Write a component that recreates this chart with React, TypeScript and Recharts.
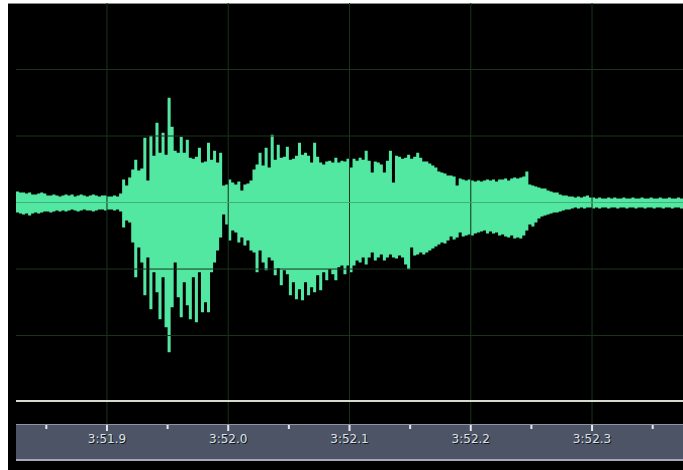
import React from "react";
import { ComposedChart, Area, XAxis, YAxis, ReferenceLine } from "recharts";

// Waveform peak data, 2.5 ms bins starting 75 ms before 3:51.9
const START_MS = -75;
const STEP_MS = 2.5;

const peakHigh: number[] = [
  11, 10, 10, 9, 10, 8, 8, 9, 10, 9, 7, 7, 8, 7, 6, 7, 8, 7, 8, 6,
  7, 8, 7, 6, 7, 8, 7, 6, 7, 7, 6, 6, 7, 6, 9,
  23, 17, 25, 33, 43, 32, 34, 65, 22, 67, 47, 80, 50, 70, 48,
  105, 76, 52, 50, 66, 50, 63, 45, 44, 46, 55, 40, 41, 60, 43, 52, 40, 50,
  17, 18, 23, 20, 18, 21, 12, 18, 19, 22,
  33, 38, 50, 37, 55, 35, 68, 43, 58, 45, 46, 56, 43, 44, 47, 60, 48, 50, 47, 40,
  60, 46, 40, 38, 41, 42, 40, 45, 40, 42, 41, 44,
  35, 44, 42, 45, 43, 52, 42, 30, 41, 40, 38, 30, 42, 52, 20, 47, 46, 44, 45, 48,
  44, 46, 50, 45, 41, 41, 39, 37, 35, 31, 30, 29, 27, 27, 26, 17, 24, 23, 22, 23,
  22, 21, 22, 21, 22, 23, 22, 23, 21, 23, 23, 24, 22, 24, 25, 24, 25, 26, 31, 18,
  17, 16, 15, 14, 14, 12, 11, 10, 10, 8, 7, 7, 6, 6, 5, 6, 5, 6, 7, 5,
  5, 4, 5, 4, 4, 5, 4, 5, 4, 4, 5, 4, 4, 5, 4, 4, 5, 4, 4, 5,
  4, 4, 5, 4, 4, 5, 4, 4, 5, 4,
];

const peakLow: number[] = [
  -10, -11, -12, -11, -13, -11, -10, -11, -10, -9, -9, -10, -9, -8, -9, -8, -9, -8, -7, -8,
  -9, -8, -7, -8, -8, -9, -8, -7, -7, -8, -7, -7, -8, -7, -9,
  -25, -18, -20, -40, -75, -45, -60, -93, -55, -107, -70, -90, -117, -75, -125,
  -150, -105, -60, -95, -115, -80, -103, -117, -75, -120, -70, -110, -100, -110, -70, -60, -48, -35,
  -12, -22, -38, -28, -30, -40, -35, -43, -38, -48,
  -50, -70, -48, -60, -68, -55, -58, -73, -66, -83, -68, -72, -93, -80, -97, -87, -98, -80, -93, -85,
  -90, -73, -88, -70, -78, -67, -72, -78, -65, -63, -72, -63,
  -70, -63, -58, -60, -55, -62, -55, -50, -58, -55, -52, -58, -55, -52, -55, -56, -53, -55, -62, -67,
  -45, -53, -52, -50, -52, -50, -48, -46, -44, -42, -40, -41, -38, -34, -37, -35, -30, -34, -33, -32,
  -33, -31, -30, -29, -28, -31, -29, -31, -30, -33, -32, -34, -35, -33, -36, -35, -36, -33, -28, -22,
  -24, -20, -16, -14, -13, -12, -11, -10, -10, -9, -8, -7, -7,
  -6, -5, -6, -5, -6, -5, -5, -6, -5, -6, -5, -5, -6, -5, -5, -6, -5, -5, -6, -5,
  -5, -6, -5, -5, -6, -5, -5, -6, -5, -5, -6, -5, -5, -6, -5, -5, -6,
];

const majorTicks = [0, 100, 200, 300, 400];
const minorTicks = [-50, 50, 150, 250, 350, 450];
const gridLevels = [-133.33, -66.67, 66.67, 133.33];

const data = peakHigh.map((hi, i) => ({ t: START_MS + i * STEP_MS, range: [peakLow[i], hi] }));
data.push({ t: START_MS + peakHigh.length * STEP_MS, range: [peakLow[peakLow.length - 1], peakHigh[peakHigh.length - 1]] });

const fmt = (ms: number) => "3:" + (51.9 + ms / 1000).toFixed(1);

const WAVE = "#52e8a2";
const GRID = "#1a361c";

const AxisTick = (props: any) => {
  const { x, y, payload } = props;
  const major = majorTicks.includes(payload.value);
  return (
    <g>
      <line x1={x} x2={x} y1={y + 1} y2={y + (major ? 7 : 5)} stroke="#e4e8ec" strokeWidth={2} />
      {major && (
        <>
          <text x={x + 1} y={y + 20} textAnchor="middle" fontFamily="DejaVu Sans, sans-serif" fontSize={12} fill="#14161b">
            {fmt(payload.value)}
          </text>
          <text x={x} y={y + 19} textAnchor="middle" fontFamily="DejaVu Sans, sans-serif" fontSize={12} fill="#dde2e8">
            {fmt(payload.value)}
          </text>
        </>
      )}
    </g>
  );
};

export default function App() {
  return (
    <div style={{ position: "absolute", left: 0, top: 0, width: 683, height: 470, background: "#fff", overflow: "hidden" }}>
      <div style={{ position: "absolute", left: 8, top: 3, width: 675, height: 467, background: "#000", borderTop: "1px solid #8a8a8a", boxSizing: "border-box" }} />
      <div style={{ position: "absolute", left: 16, top: 424, width: 667, height: 37, background: "#4c5465", borderTop: "1px solid #8d95a2", borderBottom: "2px solid #a2aab8", boxSizing: "border-box" }} />
      <div style={{ position: "absolute", left: 0, top: 0 }}>
        <ComposedChart width={683} height={470} data={data} margin={{ top: 3, right: 0, left: 16, bottom: 0 }}>
          <XAxis
            dataKey="t"
            type="number"
            domain={[-75, 475]}
            allowDataOverflow
            ticks={[...minorTicks, ...majorTicks].sort((a, b) => a - b)}
            interval={0}
            height={46}
            axisLine={false}
            tickLine={false}
            tickSize={0}
            tickMargin={0}
            tick={<AxisTick />}
          />
          <YAxis type="number" domain={[-222, 200]} allowDataOverflow hide />
          {gridLevels.map((v) => (
            <ReferenceLine key={"h" + v} y={v} stroke={GRID} strokeWidth={1} ifOverflow="visible" />
          ))}
          {majorTicks.map((v) => (
            <ReferenceLine key={"v" + v} x={v} stroke={GRID} strokeWidth={1} ifOverflow="visible" />
          ))}
          <Area
            dataKey="range"
            type="stepAfter"
            stroke="none"
            fill={WAVE}
            fillOpacity={1}
            isAnimationActive={false}
            baseValue={0}
          />
          <ReferenceLine y={0} stroke="#3fb07e" strokeWidth={1} ifOverflow="visible" />
          {majorTicks.map((v) => (
            <ReferenceLine key={"vo" + v} x={v} stroke="rgba(0,40,10,0.1)" strokeWidth={1} ifOverflow="visible" />
          ))}
          <ReferenceLine y={-199} stroke="#d5dccd" strokeWidth={2} ifOverflow="visible" />
        </ComposedChart>
      </div>
    </div>
  );
}
